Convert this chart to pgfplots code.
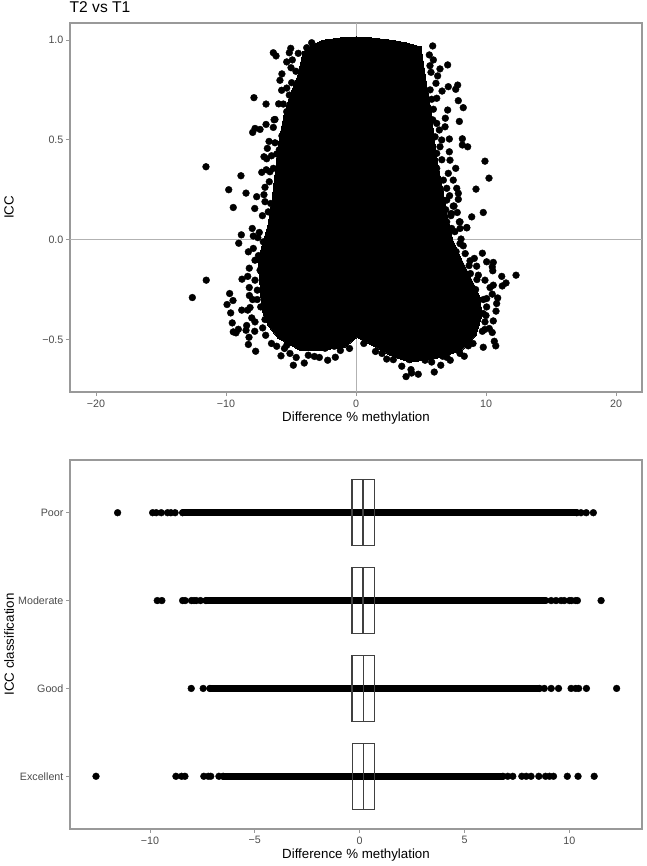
\documentclass[border=0pt]{standalone}
\usepackage{fontspec}
\setmainfont{Liberation Sans}
\usepackage{pgfplots}
\pgfplotsset{compat=1.18}
\usepackage{pgfplotstable}
\definecolor{bordergray}{gray}{0.6}
\definecolor{refgray}{gray}{0.7}
\definecolor{ticktext}{gray}{0.3}
\definecolor{boxgray}{gray}{0.25}
\pgfplotsset{
  ggp/.style={
    scale only axis, width=572bp, height=369bp,
    axis line style={bordergray, line width=1.3bp},
    tick style={bordergray, line width=0.8bp},
    tick align=outside, major tick length=3.6bp,
    xtick pos=bottom, ytick pos=left,
    tick label style={font=\fontsize{10.7bp}{12bp}\selectfont, text=ticktext},
    label style={font=\fontsize{13.3bp}{15bp}\selectfont},
    x tick label style={yshift=-0.5bp},
    y tick label style={xshift=0.5bp},
    x label style={at={(axis description cs:0.5,0)},anchor=center,yshift=-26bp},
    y label style={at={(axis description cs:0,0.5)},anchor=center,yshift=61bp},
  },
  dot/.style={only marks, mark=*, mark size=3.4bp, black, mark options={draw=none, fill=black}},
}
\pgfplotstableread{
x y
-6.36 0.936
-6.15 0.920
-5.02 0.958
-5.13 0.936
-4.44 0.933
-3.41 0.986
-3.79 0.961
-5.33 0.890
-5.00 0.861
-4.62 0.843
-5.85 0.798
-5.72 0.748
-5.33 0.759
-4.95 0.786
-5.13 0.724
-7.85 0.711
-6.92 0.679
-5.59 0.679
-5.33 0.641
-6.23 0.602
-6.92 0.577
-7.77 0.557
-7.95 0.537
-7.38 0.552
-6.36 0.562
-6.69 0.492
-6.23 0.485
-6.82 0.457
-7.08 0.415
-6.87 0.405
-6.10 0.429
-11.54 0.365
-8.85 0.320
-7.25 0.337
-6.62 0.340
-6.36 0.357
-6.67 0.290
-7.00 0.262
-9.79 0.250
-8.46 0.233
-7.64 0.215
-7.08 0.225
-9.44 0.161
-7.79 0.156
-6.56 0.181
-6.75 0.139
-6.36 0.139
-7.98 0.056
-7.44 0.036
-8.82 0.024
-7.90 0.018
-9.02 -0.018
-8.28 -0.061
-7.90 -0.044
-7.13 -0.011
-7.77 -0.103
-8.21 -0.143
-7.38 -0.153
-8.33 -0.184
-8.77 -0.198
-11.52 -0.203
-7.77 -0.203
-8.21 -0.240
-7.59 -0.253
-12.59 -0.290
-9.72 -0.270
-9.46 -0.305
-9.92 -0.325
-7.95 -0.300
-8.79 -0.353
-9.64 -0.367
-8.15 -0.340
-8.33 -0.353
-7.33 -0.337
-8.02 -0.392
-7.77 -0.412
-9.52 -0.417
-8.41 -0.430
-9.05 -0.449
-9.44 -0.462
-9.23 -0.467
-8.46 -0.454
-7.79 -0.459
-7.18 -0.442
-6.95 -0.479
-8.23 -0.489
-8.28 -0.525
-7.72 -0.559
-6.10 -0.534
-5.77 -0.582
-5.08 -0.570
-4.82 -0.629
-3.98 -0.618
-3.67 -0.579
-2.82 -0.590
-2.18 -0.604
-1.59 -0.589
-2.38 -0.544
-1.67 -0.534
-1.02 -0.520
-5.33 -0.529
-7.50 -0.080
-7.60 -0.300
-7.00 -0.400
-6.50 -0.520
-5.50 -0.545
-4.60 -0.590
-3.20 -0.585
-7.55 0.010
-8.20 -0.280
-7.20 0.120
-7.00 0.190
-6.90 0.350
-6.50 0.420
-6.30 0.600
-5.95 0.680
-5.70 0.830
-4.90 0.900
-4.70 0.700
-5.20 0.600
-5.70 0.520
-5.90 0.450
-0.50 -0.545
-1.20 -0.555
9.79 0.136
8.90 0.114
7.79 0.136
7.31 0.128
7.54 0.168
7.95 0.089
8.52 0.059
8.00 0.056
8.08 0.003
8.25 -0.031
9.72 -0.068
9.10 -0.094
8.77 -0.106
10.05 -0.111
10.56 -0.114
9.28 -0.133
10.48 -0.136
10.52 -0.156
12.31 -0.178
11.21 -0.184
11.54 -0.217
11.25 -0.232
9.92 -0.203
9.41 -0.178
10.56 -0.228
10.31 -0.240
10.48 -0.273
10.05 -0.295
10.90 -0.292
10.82 -0.320
10.77 -0.358
10.05 -0.337
9.79 -0.370
10.56 -0.407
9.92 -0.412
10.25 -0.445
10.48 -0.465
9.72 -0.459
10.64 -0.509
10.75 -0.532
9.79 -0.539
8.64 -0.532
8.33 -0.584
7.25 -0.604
6.52 -0.629
6.02 -0.663
4.79 -0.674
4.23 -0.651
4.28 -0.668
3.85 -0.686
3.52 -0.634
5.82 -0.613
5.31 -0.604
4.10 -0.601
2.87 -0.601
2.36 -0.598
3.64 -0.579
6.67 -0.584
5.90 0.970
5.64 0.925
5.95 0.900
7.05 0.875
5.69 0.871
6.46 0.855
5.77 0.838
6.28 0.820
6.15 0.783
7.82 0.774
7.67 0.753
7.10 0.766
6.62 0.744
6.21 0.708
5.82 0.703
7.87 0.696
8.25 0.661
7.05 0.649
5.95 0.653
6.87 0.608
7.95 0.592
6.21 0.582
6.85 0.565
6.41 0.549
6.08 0.515
7.18 0.504
6.59 0.499
8.18 0.505
8.18 0.474
8.59 0.465
6.46 0.465
7.18 0.440
7.23 0.398
6.21 0.432
7.67 0.357
7.10 0.332
6.21 0.357
5.95 0.315
7.48 0.298
6.72 0.298
9.23 0.253
7.75 0.257
7.87 0.232
6.98 0.257
7.87 0.202
6.98 0.198
7.48 0.168
7.33 0.131
8.00 0.089
8.52 0.061
6.98 0.089
7.36 0.056
9.92 0.393
10.23 0.308
6.60 0.400
6.90 0.150
7.20 0.220
7.60 0.040
7.70 -0.060
8.40 -0.070
8.80 -0.170
9.20 -0.250
9.80 -0.300
9.90 -0.450
9.00 -0.520
8.00 -0.570
7.00 -0.590
5.70 0.750
5.90 0.600
6.50 0.250
7.30 0.120
8.00 -0.020
8.70 -0.130
9.30 -0.200
10.00 -0.380
1.50 -0.560
2.00 -0.570
0.60 -0.520
}\scatterpts
\pgfplotstableread{
x y
-11.54 0
-9.87 0
-9.70 0
-9.46 0
-9.16 0
-9.00 0
-8.80 0
-8.44 0
10.35 0
10.55 0
10.80 0
11.14 0
}\poorpts
\pgfplotstableread{
x y
-9.65 1
-9.43 1
-8.44 1
-8.32 1
-8.02 1
-7.90 1
-7.79 1
-7.59 1
-7.33 1
9.13 1
9.36 1
9.60 1
9.75 1
10.00 1
10.10 1
10.30 1
10.38 1
11.51 1
}\moderatepts
\pgfplotstableread{
x y
-8.03 2
-7.46 2
-7.14 2
8.57 2
8.80 2
9.13 2
9.48 2
10.08 2
10.30 2
10.44 2
10.81 2
12.25 2
}\goodpts
\pgfplotstableread{
x y
-12.57 3
-8.76 3
-8.49 3
-8.33 3
-7.43 3
-7.22 3
-7.10 3
-6.71 3
-6.51 3
6.83 3
7.06 3
7.30 3
7.73 3
7.94 3
8.17 3
8.54 3
8.86 3
9.05 3
9.24 3
9.90 3
10.41 3
11.18 3
}\excellentpts
\begin{document}
\begin{tikzpicture}[x=1bp,y=1bp]
\path[use as bounding box] (0,0) rectangle (647,866);
% top panel
\begin{axis}[ggp, at={(70bp,474bp)}, anchor=south west,
  xmin=-22, xmax=22, ymin=-0.763, ymax=1.085,
  xtick={-20,-10,0,10,20}, xticklabels={−20,−10,0,10,20},
  ytick={-0.5,0,0.5,1}, yticklabels={−0.5,0.0,0.5,1.0},
  xlabel={Difference \% methylation}, ylabel={ICC},
  title={T2 vs T1},
  title style={at={(axis description cs:0,1)},anchor=south west,xshift=-0.5bp,yshift=4bp,inner sep=0pt,font=\fontsize{15.6bp}{18bp}\selectfont},
]
\addplot[refgray, line width=1bp, forget plot] coordinates {(-22,0) (22,0)};
\addplot[refgray, line width=1bp, forget plot] coordinates {(0,-0.763) (0,1.085)};
% dense mass of overlapping points, traced as an outline
\addplot[fill=black, draw=black, line width=0pt] coordinates {
(-2.6,0.998) (-3.5,0.970) (-4.08,0.940) (-4.46,0.825) (-5.08,0.724) (-5.54,0.624) (-5.92,0.499)
(-6.15,0.373) (-6.46,0.198) (-6.77,0.073) (-7.23,-0.028) (-7.54,-0.113) (-7.38,-0.228)
(-7.23,-0.353) (-6.77,-0.429) (-6.00,-0.494) (-4.31,-0.554) (-2.77,-0.554) (-0.85,-0.539)
(0.08,-0.489) (1.23,-0.529) (2.62,-0.579) (4.15,-0.614) (6.23,-0.594) (8.15,-0.554)
(9.23,-0.479) (9.69,-0.378) (9.54,-0.288) (8.92,-0.203) (8.23,-0.113) (7.46,-0.003)
(7.00,0.123) (6.69,0.248) (6.31,0.373) (6.00,0.514) (5.77,0.649) (5.46,0.764)
(5.00,0.965) (3.9,0.985) (2.85,0.998) (1.2,1.010) (0,1.015) (-1.2,1.010)
} --cycle;
\addplot[dot] table[x=x,y=y] {\scatterpts};
\end{axis}
% bottom panel
\begin{axis}[ggp, at={(70bp,37bp)}, anchor=south west,
  xmin=-13.81, xmax=13.46, ymin=-0.6, ymax=3.6, y dir=reverse,
  xtick={-10,-5,0,5,10}, xticklabels={−10,−5,0,5,10},
  ytick={0,1,2,3}, yticklabels={Poor,Moderate,Good,Excellent},
  xlabel={Difference \% methylation}, ylabel={ICC classification},
]
% solid runs of overlapping points
\addplot[black, line width=6.5bp, line cap=round] coordinates {(-8.44,0) (10.35,0)};
\addplot[black, line width=6.5bp, line cap=round] coordinates {(-7.33,1) (8.89,1)};
\addplot[black, line width=6.5bp, line cap=round] coordinates {(-7.14,2) (8.57,2)};
\addplot[black, line width=6.5bp, line cap=round] coordinates {(-6.51,3) (6.83,3)};
\addplot[dot] table[x=x,y=y] {\poorpts};
\addplot[dot] table[x=x,y=y] {\moderatepts};
\addplot[dot] table[x=x,y=y] {\goodpts};
\addplot[dot] table[x=x,y=y] {\excellentpts};
% boxes
\addplot[boxgray, line width=1.4bp] coordinates {(-0.37,-0.375) (0.7,-0.375) (0.7,0.375) (-0.37,0.375)} --cycle;
\addplot[boxgray, line width=1.4bp] coordinates {(0.16,-0.375) (0.16,0.375)};
\addplot[boxgray, line width=1.4bp] coordinates {(-0.37,0.625) (0.7,0.625) (0.7,1.375) (-0.37,1.375)} --cycle;
\addplot[boxgray, line width=1.4bp] coordinates {(0.16,0.625) (0.16,1.375)};
\addplot[boxgray, line width=1.4bp] coordinates {(-0.36,1.625) (0.71,1.625) (0.71,2.375) (-0.36,2.375)} --cycle;
\addplot[boxgray, line width=1.4bp] coordinates {(0.17,1.625) (0.17,2.375)};
\addplot[boxgray, line width=1.4bp] coordinates {(-0.35,2.625) (0.72,2.625) (0.72,3.375) (-0.35,3.375)} --cycle;
\addplot[boxgray, line width=1.4bp] coordinates {(0.19,2.625) (0.19,3.375)};
\end{axis}
\end{tikzpicture}
\end{document}
